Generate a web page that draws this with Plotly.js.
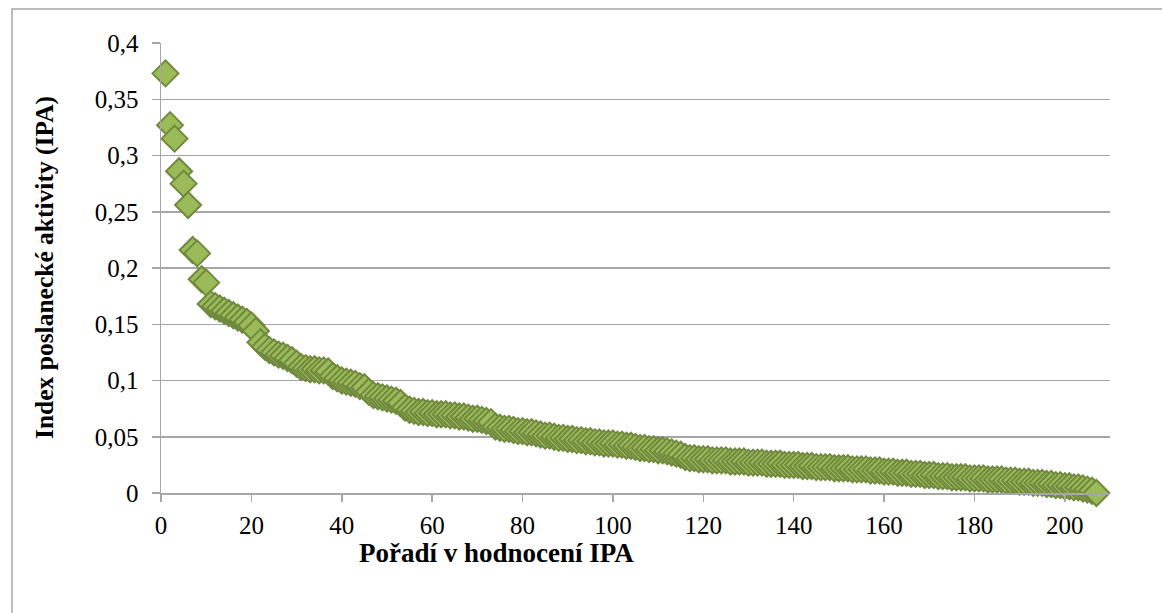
<!DOCTYPE html>
<html>
<head>
<meta charset="utf-8">
<script src="https://cdn.plot.ly/plotly-3.0.1.min.js"></script>
<style>
  html, body { margin: 0; padding: 0; background: #ffffff; overflow: hidden; }
  #chart { width: 1162px; height: 613px; }
</style>
</head>
<body>
<div id="chart"></div>
<script>
// IPA values by rank (1..207)
const ipa = [
  0.373, 0.327, 0.315, 0.286, 0.275, 0.256, 0.216, 0.213, 0.190, 0.187,
  0.168, 0.166, 0.164, 0.162, 0.160, 0.158, 0.156, 0.154, 0.152, 0.149,
  0.144, 0.134, 0.130, 0.127, 0.125, 0.123, 0.122, 0.120, 0.118, 0.115,
  0.112, 0.111, 0.110, 0.110, 0.109, 0.109, 0.108, 0.104, 0.102, 0.100,
  0.099, 0.098, 0.097, 0.095, 0.094, 0.090, 0.087, 0.086, 0.085, 0.084,
  0.083, 0.082, 0.080, 0.076, 0.074, 0.073, 0.072, 0.072, 0.071, 0.071,
  0.070, 0.070, 0.070, 0.069, 0.069, 0.068, 0.068, 0.067, 0.066, 0.066,
  0.065, 0.064, 0.063, 0.059, 0.058, 0.057, 0.057, 0.056, 0.055, 0.055,
  0.054, 0.054, 0.053, 0.052, 0.051, 0.051, 0.050, 0.049, 0.049, 0.048,
  0.048, 0.047, 0.047, 0.046, 0.046, 0.045, 0.045, 0.044, 0.044, 0.044,
  0.043, 0.043, 0.042, 0.042, 0.041, 0.040, 0.040, 0.039, 0.039, 0.038,
  0.038, 0.037, 0.036, 0.035, 0.034, 0.032, 0.031, 0.031, 0.030, 0.030,
  0.030, 0.029, 0.029, 0.029, 0.029, 0.028, 0.028, 0.028, 0.028, 0.027,
  0.027, 0.027, 0.027, 0.026, 0.026, 0.026, 0.026, 0.025, 0.025, 0.025,
  0.025, 0.024, 0.024, 0.024, 0.023, 0.023, 0.023, 0.023, 0.022, 0.022,
  0.022, 0.022, 0.021, 0.021, 0.021, 0.021, 0.020, 0.020, 0.020, 0.019,
  0.019, 0.019, 0.018, 0.018, 0.018, 0.017, 0.017, 0.017, 0.016, 0.016,
  0.016, 0.015, 0.015, 0.015, 0.014, 0.014, 0.014, 0.014, 0.013, 0.013,
  0.013, 0.013, 0.012, 0.012, 0.012, 0.012, 0.011, 0.011, 0.011, 0.010,
  0.010, 0.010, 0.009, 0.009, 0.009, 0.008, 0.008, 0.007, 0.007, 0.006,
  0.006, 0.005, 0.005, 0.004, 0.003, 0.002, 0.000
];
const rank = ipa.map((v, i) => i + 1);

const yTickVals = [0, 0.05, 0.1, 0.15, 0.2, 0.25, 0.3, 0.35, 0.4];
const yTickText = ["0", "0,05", "0,1", "0,15", "0,2", "0,25", "0,3", "0,35", "0,4"];
const xTickVals = [0, 20, 40, 60, 80, 100, 120, 140, 160, 180, 200];

const xTitle = "Pořadí v hodnocení IPA";
const yTitle = "Index poslanecké aktivity (IPA)";

const serif = "Liberation Serif";
const gridGray = "#a6a6a6";

const traces = [
  {
    type: "scatter",
    mode: "markers",
    x: rank,
    y: ipa,
    cliponaxis: false,
    marker: {
      symbol: "diamond",
      size: 20,
      color: "#9bbb59",
      line: { color: "#71893f", width: 2 }
    },
    hoverinfo: "x+y",
    showlegend: false
  }
];

const W = 1162, H = 613;
const mL = 161, mR = 52, mT = 43, mB = 120;
const pw = W - mL - mR, ph = H - mT - mB;

const layout = {
  width: W,
  height: H,
  margin: { l: mL, r: mR, t: mT, b: mB, pad: 0 },
  paper_bgcolor: "#ffffff",
  plot_bgcolor: "#ffffff",
  font: { family: serif, size: 25, color: "#000000" },
  showlegend: false,
  xaxis: {
    range: [0, 210],
    tickvals: xTickVals,
    ticks: "outside",
    ticklen: 7,
    tickwidth: 1.5,
    tickcolor: gridGray,
    showline: true,
    linecolor: gridGray,
    linewidth: 1.5,
    showgrid: false,
    zeroline: false,
    ticklabelstandoff: 2,
    tickfont: { family: serif, size: 25, color: "#000000" }
  },
  yaxis: {
    range: [0, 0.4],
    tickvals: yTickVals,
    ticktext: yTickText,
    ticks: "outside",
    ticklen: 8,
    tickwidth: 1.5,
    tickcolor: gridGray,
    showline: true,
    linecolor: gridGray,
    linewidth: 1.5,
    showgrid: true,
    gridcolor: gridGray,
    gridwidth: 1.5,
    zeroline: false,
    ticklabelstandoff: 8,
    tickfont: { family: serif, size: 25, color: "#000000" }
  },
  annotations: [
    {
      text: xTitle,
      xref: "paper", yref: "paper",
      x: (496 - mL) / pw, y: -(553 - mT - ph) / ph,
      xanchor: "center", yanchor: "middle",
      showarrow: false,
      font: { family: serif, size: 27, color: "#000000", weight: "bold" }
    },
    {
      text: yTitle,
      xref: "paper", yref: "paper",
      x: (44 - mL) / pw, y: 0.5,
      xanchor: "center", yanchor: "middle",
      textangle: -90,
      showarrow: false,
      font: { family: serif, size: 25.5, color: "#000000", weight: "bold" }
    }
  ],
  shapes: [
    {
      type: "rect",
      xref: "paper", yref: "paper",
      x0: (12 - mL) / pw,
      x1: (W + 20 - mL) / pw,
      y0: -(H + 20 - mT - ph) / ph,
      y1: (mT + ph - 9) / ph,
      line: { color: "#a6a6a6", width: 1.5 },
      fillcolor: "rgba(0,0,0,0)",
      layer: "below"
    }
  ]
};

Plotly.newPlot("chart", traces, layout, { displayModeBar: false, staticPlot: true });
</script>
</body>
</html>
